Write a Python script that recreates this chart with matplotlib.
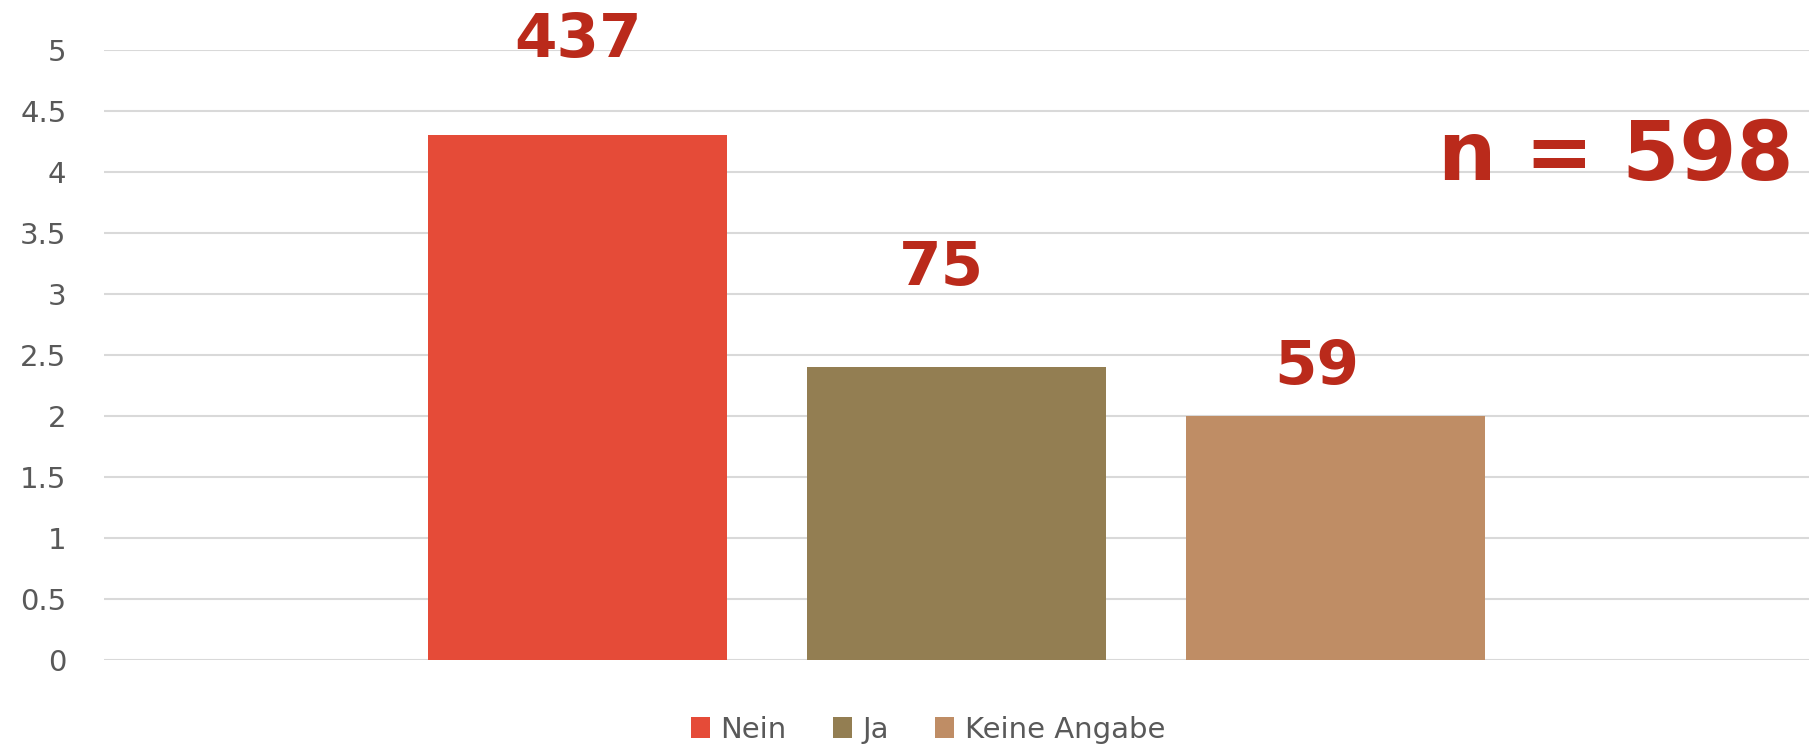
import matplotlib.pyplot as plt
import numpy as np

# -----------------------------
# DATEN
# -----------------------------
kategorien = ["Nein", "Ja", "Keine Angabe"]
werte = [4.3, 2.4, 2.0]
beschriftung = ["437", "75", "59"]
n_gesamt = "n = 598"

farben = ["#E54B38", "#937E52", "#BF8D65"]
rot = "#BA2A1B"
grau = "#595959"

# Position der Zahlen (manuell platziert wie im Original)
label_y = [4.94, 3.07, 2.26]
label_dx = [0.0, -0.04, -0.05]

# -----------------------------
# GRAFIK
# -----------------------------
fig = plt.figure(figsize=(18.09, 7.44), dpi=100, facecolor="white")
ax = fig.add_axes([0.0575, 0.1129, 0.9425, 0.8204])

x = np.arange(len(kategorien))
bars = ax.bar(x, werte, width=0.788, color=farben, zorder=3)

for xi, dx, txt, yi in zip(x, label_dx, beschriftung, label_y):
    ax.text(xi + dx, yi, txt, ha="center", va="baseline", fontsize=44,
            fontweight="bold", color=rot)

ax.text(0.991, 3.93, n_gesamt, transform=ax.get_yaxis_transform(),
        ha="right", va="baseline", fontsize=59, fontweight="bold", color=rot)

ax.set_xlim(-1.25, 3.25)
ax.set_ylim(0, 5)
ax.set_yticks(np.arange(0, 5.01, 0.5))
ax.set_yticklabels(["0", "0.5", "1", "1.5", "2", "2.5", "3", "3.5", "4", "4.5", "5"])
ax.tick_params(axis="y", length=0, pad=27, labelsize=21, labelcolor=grau)
ax.set_xticks([])
ax.grid(axis="y", color="#D9D9D9", linewidth=1.5, zorder=0)
for s in ax.spines.values():
    s.set_visible(False)

ax.legend(bars, kategorien, loc="center", bbox_to_anchor=(0.513, 0.019),
          bbox_transform=fig.transFigure, ncol=3, frameon=False, fontsize=21,
          labelcolor=grau, handlelength=0.65, handleheight=0.75,
          handletextpad=0.35, columnspacing=1.6)

plt.savefig("out.png", dpi=100, facecolor="white")
